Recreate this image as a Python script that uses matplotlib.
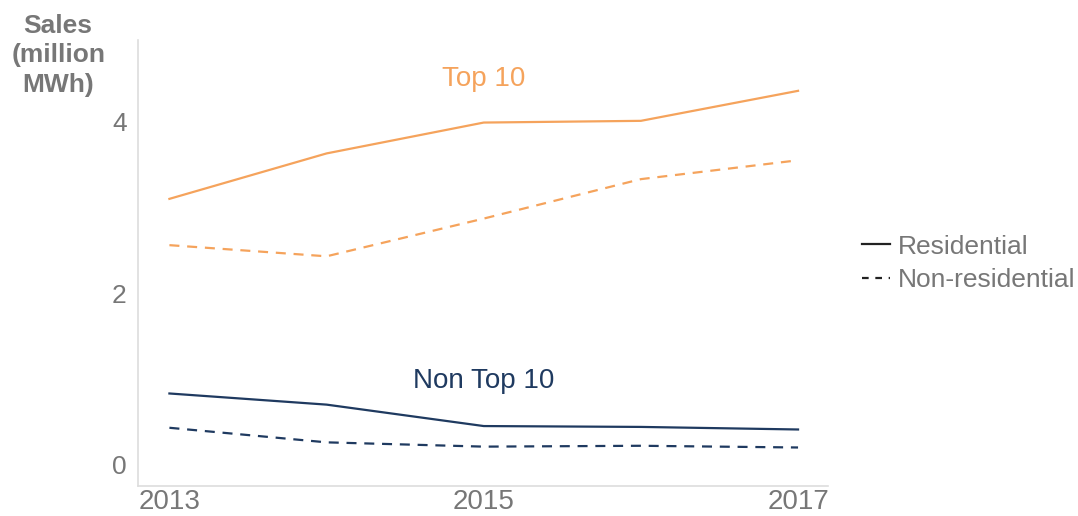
import matplotlib
matplotlib.use("Agg")
import matplotlib.pyplot as plt
from matplotlib.lines import Line2D

plt.rcParams['font.family'] = ['Liberation Sans', 'DejaVu Sans']

years = [2013, 2014, 2015, 2016, 2017]
top10_res = [3.10, 3.63, 3.99, 4.01, 4.36]
top10_nonres = [2.56, 2.43, 2.87, 3.33, 3.55]
non_top10_res = [0.83, 0.70, 0.45, 0.44, 0.41]
non_top10_nonres = [0.43, 0.26, 0.21, 0.22, 0.20]
yticks = [0, 2, 4]
xticks = [2013, 2015, 2017]

orange = '#F5A35C'
navy = '#1F3A60'
gray = '#777777'

fig = plt.figure(figsize=(10.78, 5.16), dpi=100)
ax = fig.add_axes([0.128, 0.058, 0.64, 0.864])

ax.plot(years, top10_res, color=orange, lw=1.6, ls='-')
ax.plot(years, top10_nonres, color=orange, lw=1.6, ls=(0, (4.5, 3.5)))
ax.plot(years, non_top10_res, color=navy, lw=1.6, ls='-')
ax.plot(years, non_top10_nonres, color=navy, lw=1.6, ls=(0, (4.5, 3.5)))

ax.set_xlim(2012.8, 2017.19)
ax.set_ylim(-0.25, 4.95)
ax.set_xticks(xticks)
ax.set_yticks(yticks)
ax.tick_params(length=0, labelsize=19, colors=gray, pad=8)
ax.tick_params(axis='x', labelsize=20, pad=2)
for s in ['top', 'right']:
    ax.spines[s].set_visible(False)
for s in ['left', 'bottom']:
    ax.spines[s].set_color('#dddddd')
    ax.spines[s].set_linewidth(1.2)

ax.text(2015, 4.5, 'Top 10', color=orange, fontsize=20, ha='center', va='center')
ax.text(2015, 0.98, 'Non Top 10', color=navy, fontsize=20, ha='center', va='center')

fig.text(0.054, 0.893, 'Sales\n(million\nMWh)', color=gray, fontsize=19, fontweight='bold',
         ha='center', va='center', linespacing=1.3)

handles = [Line2D([0], [0], color='#222222', lw=1.6, ls='-'),
           Line2D([0], [0], color='#222222', lw=1.6, ls=(0, (3, 3)))]
leg = fig.legend(handles, ['Residential', 'Non-residential'], loc='center left',
                 bbox_to_anchor=(0.778, 0.49), frameon=False, fontsize=19,
                 handlelength=1.05, handletextpad=0.3, labelspacing=0.35)
for t in leg.get_texts():
    t.set_color(gray)

fig.savefig('out.png', dpi=100)
